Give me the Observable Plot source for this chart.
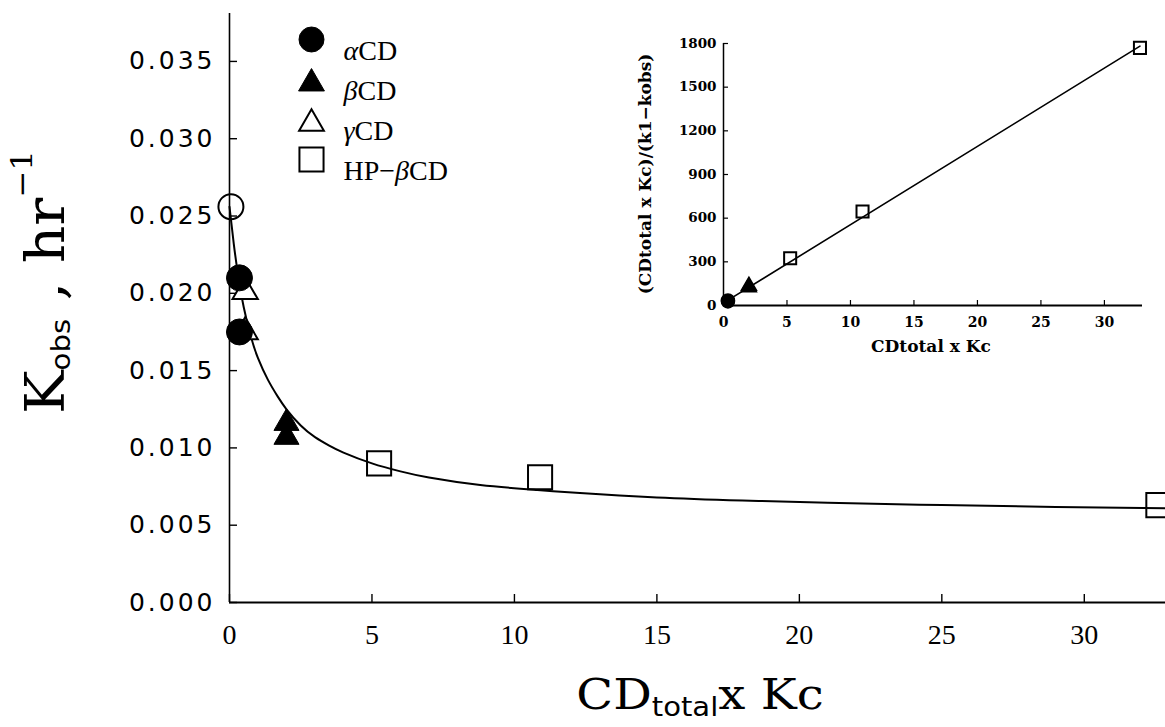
<!DOCTYPE html>
<html><head><meta charset="utf-8">
<script src="https://cdn.jsdelivr.net/npm/d3@7"></script>
<script src="https://cdn.jsdelivr.net/npm/@observablehq/plot@0.6"></script>
<style>
html,body{margin:0;padding:0;background:#fff;}
#wrap{position:relative;width:1165px;height:727px;overflow:hidden;background:#fff;}
#main{position:absolute;left:0;top:0;}
#inset{position:absolute;left:600px;top:0;}
#main g[aria-label="y-axis tick label"]{letter-spacing:3px;}
svg{background:transparent !important;}
</style></head><body>
<div id="wrap"><div id="main"></div><div id="inset"></div></div>
<script>
// ---------- main chart data ----------
const k1X = [0.05];            const k1Y = [0.0256];           // open circle (no CD)
const alphaX = [0.35, 0.35];   const alphaY = [0.0210, 0.0175];
const betaX = [2.0, 2.0];      const betaY = [0.0116, 0.0107];
const gammaX = [0.55, 0.55];   const gammaY = [0.0201, 0.0175];
const hpX = [5.25, 10.9, 32.6]; const hpY = [0.0090, 0.0081, 0.0063];
const curveX = [0, 0.15, 0.3, 0.5, 0.75, 1.0, 1.35, 1.7, 2.0, 2.5, 3.0, 3.5, 4.0, 5.0, 6.0, 7.0, 8.8, 10.8, 12.3, 15, 18, 21, 25, 29, 32.85];
const curveY = [0.0256, 0.0232, 0.0212, 0.0191, 0.0172, 0.0158, 0.0144, 0.0133, 0.0125, 0.01145, 0.0107, 0.01015, 0.0097, 0.0090, 0.00848, 0.00808, 0.0076, 0.00728, 0.00708, 0.0068, 0.0066, 0.00645, 0.0063, 0.00618, 0.0061];
const xTicks = [0, 5, 10, 15, 20, 25, 30];
const yTicks = [0, 0.005, 0.010, 0.015, 0.020, 0.025, 0.030, 0.035];
const legendLabels = ["αCD", "βCD", "γCD", "HP−βCD"];
const legendSymbols = ["circle", "triangle", "triangle", "square"];
const legendFills = ["black", "black", "none", "none"];
const legendR = [12.5, 9.6, 9.2, 13.6];

// ---------- inset data ----------
const inAlphaX = [0.35, 0.35]; const inAlphaY = [35, 28];
const inBetaX = [2.0, 2.0];    const inBetaY = [135, 125];
const inHpX = [5.25, 10.95, 32.8]; const inHpY = [325, 646, 1770];
const fitX = [0.2, 32.8];      const fitY = [28, 1782];
const inXTicks = [0, 5, 10, 15, 20, 25, 30];
const inYTicks = [0, 300, 600, 900, 1200, 1500, 1800];

const pts = (xs, ys) => xs.map((x, i) => ({x, y: ys[i]}));

const legendMarks = legendLabels.flatMap((lab, i) => [
  Plot.dot([lab], {frameAnchor: "top-left", dx: 82, dy: 26 + i * 40 + (legendSymbols[i] === "triangle" ? 4 : 0),
    symbol: legendSymbols[i], r: legendR[i], fill: legendFills[i], stroke: "black", strokeWidth: legendFills[i] === "none" ? 2 : 1}),
  Plot.text([lab], {frameAnchor: "top-left", dx: 114, dy: 27 + i * 40, text: d => d, textAnchor: "start",
    fontSize: 28, fontFamily: "Liberation Serif", fill: "black"})
]);

const main = Plot.plot({
  width: 1165, height: 727,
  marginLeft: 229, marginRight: 0, marginTop: 13, marginBottom: 125,
  x: {domain: [0, 32.85]},
  y: {domain: [0, 0.0381]},
  style: {background: "transparent", color: "black"},
  marks: [
    Plot.ruleX([0], {stroke: "black", strokeWidth: 1.6}),
    Plot.ruleY([0], {stroke: "black", strokeWidth: 2}),
    Plot.axisX({ticks: xTicks, tickSize: 8, dy: -8, tickFormat: () => "", strokeWidth: 1.4, label: null}),
    Plot.axisX({ticks: xTicks, tickSize: 0, tickPadding: 22, fontSize: 28, fontFamily: "Liberation Serif", label: null}),
    Plot.axisY({ticks: yTicks, tickSize: 8, dx: 8, tickFormat: () => "", strokeWidth: 1.4, label: null}),
    Plot.axisY({ticks: yTicks, tickSize: 0, tickPadding: 14, tickFormat: d3.format(".3f"), fontSize: 25, fontFamily: "DejaVu Sans", label: null}),
    Plot.line(pts(curveX, curveY), {x: "x", y: "y", curve: "natural", stroke: "black", strokeWidth: 2}),
    Plot.dot(pts(k1X, k1Y), {x: "x", y: "y", r: 12.5, fill: "none", stroke: "black", strokeWidth: 2}),
    Plot.dot(pts(gammaX, gammaY), {x: "x", y: "y", symbol: "triangle", r: 9.4, fill: "white", stroke: "black", strokeWidth: 2}),
    Plot.dot(pts(alphaX, alphaY), {x: "x", y: "y", r: 13, fill: "black", stroke: "black", strokeWidth: 1}),
    Plot.dot(pts(betaX, betaY), {x: "x", y: "y", symbol: "triangle", r: 9.3, fill: "black", stroke: "black", strokeWidth: 1}),
    Plot.dot(pts(hpX, hpY), {x: "x", y: "y", symbol: "square", r: 13.6, fill: "none", stroke: "black", strokeWidth: 2}),
    ...legendMarks
  ]
});
document.getElementById("main").appendChild(main);

// italic Greek letters in legend
const ms = d3.select(main);
ms.selectAll("text").each(function () {
  const t = this.textContent;
  if (!legendLabels.includes(t)) return;
  const sel = d3.select(this);
  sel.text(null);
  for (const ch of t) {
    const sp = sel.append("tspan").text(ch);
    if ("αβγ".includes(ch)) sp.attr("font-style", "italic");
  }
});

// y title
const yt = ms.append("text").attr("transform", "translate(64,282) rotate(-90) scale(1.08,1)")
  .attr("text-anchor", "middle").attr("fill", "black").attr("font-family", "DejaVu Serif");
yt.append("tspan").attr("font-size", 54).text("K");
yt.append("tspan").attr("font-size", 27).attr("font-family", "DejaVu Sans").attr("dy", 6).text("obs");
yt.append("tspan").attr("font-size", 54).attr("dy", -6).text(" , hr");
yt.append("tspan").attr("font-size", 30).attr("dy", -32).text("−1");

// x title
const xt = ms.append("text").attr("transform", "translate(700,709) scale(1.12,1)")
  .attr("text-anchor", "middle").attr("fill", "black").attr("font-family", "DejaVu Serif");
xt.append("tspan").attr("font-size", 43).text("CD");
xt.append("tspan").attr("font-size", 26).attr("font-family", "DejaVu Sans").attr("dy", 7).text("total");
xt.append("tspan").attr("font-size", 43).attr("dy", -7).text("x Kc");

// ---------- inset ----------
const inset = Plot.plot({
  width: 565, height: 370,
  marginLeft: 123, marginRight: 23, marginTop: 43, marginBottom: 65,
  x: {domain: [0, 33]},
  y: {domain: [0, 1800]},
  style: {background: "transparent", color: "black"},
  marks: [
    Plot.ruleX([0], {stroke: "black", strokeWidth: 1.5}),
    Plot.ruleY([0], {stroke: "black", strokeWidth: 2}),
    Plot.axisX({ticks: inXTicks, tickSize: 5, dy: -5, tickFormat: () => "", strokeWidth: 1.2, label: null}),
    Plot.axisX({ticks: inXTicks, tickSize: 0, tickPadding: 12, tickFormat: d3.format("d"), fontSize: 14, fontWeight: "bold", fontFamily: "DejaVu Serif", label: null}),
    Plot.axisY({ticks: inYTicks, tickSize: 5, dx: 5, tickFormat: () => "", strokeWidth: 1.2, label: null}),
    Plot.axisY({ticks: inYTicks, tickSize: 0, tickPadding: 7, tickFormat: d3.format("d"), fontSize: 13.5, fontWeight: "bold", fontFamily: "DejaVu Serif", label: null}),
    Plot.line(pts(fitX, fitY), {x: "x", y: "y", stroke: "black", strokeWidth: 1.6}),
    Plot.dot(pts(inAlphaX, inAlphaY), {x: "x", y: "y", r: 6.5, fill: "black", stroke: "black"}),
    Plot.dot(pts(inBetaX, inBetaY), {x: "x", y: "y", symbol: "triangle", r: 5.6, fill: "black", stroke: "black"}),
    Plot.dot(pts(inHpX, inHpY), {x: "x", y: "y", symbol: "square", r: 6.8, fill: "none", stroke: "black", strokeWidth: 2})
  ]
});
document.getElementById("inset").appendChild(inset);
const is = d3.select(inset);
is.append("text").attr("transform", "translate(51,174) rotate(-90)").attr("text-anchor", "middle")
  .attr("font-family", "DejaVu Serif").attr("font-weight", "bold").attr("font-size", 17).attr("fill", "black")
  .text("(CDtotal x Kc)/(k1−kobs)");
is.append("text").attr("x", 331).attr("y", 352).attr("text-anchor", "middle")
  .attr("font-family", "DejaVu Serif").attr("font-weight", "bold").attr("font-size", 17).attr("fill", "black")
  .text("CDtotal x Kc");
</script>
</body></html>
